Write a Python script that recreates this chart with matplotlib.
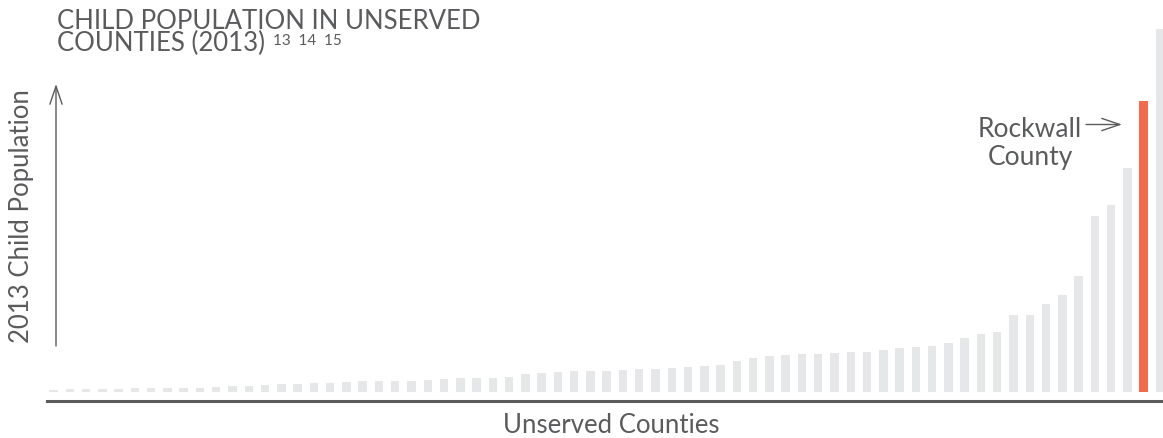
import numpy as np
from matplotlib import pyplot as plt

W, H = 1163, 439

# 2013 child population of each unserved county, smallest to largest
children = [170, 230, 250, 260, 270, 320, 330, 340, 350, 360,
            420, 480, 500, 560, 640, 660, 720, 740, 800, 860,
            880, 890, 900, 980, 1040, 1110, 1120, 1130, 1210, 1440,
            1520, 1600, 1670, 1690, 1700, 1760, 1830, 1850, 1920, 2000,
            2080, 2160, 2480, 2720, 2880, 2960, 3030, 3050, 3120, 3190,
            3210, 3360, 3520, 3600, 3680, 3920, 4320, 4640, 4800, 6160,
            6180, 7040, 7760, 9280, 14080, 14960, 17920, 23280, 29040]
highlight = 67          # Rockwall County
counties = np.arange(len(children))

GREY = '#e6e7e8'
ORANGE = '#f26b4a'
INK = '#5a5b5d'
FONT = 'Lato'


def fx(x):
    return x / W


def fy(y):
    return 1 - y / H


colors = [ORANGE if i == highlight else GREY for i in counties]

fig = plt.figure(figsize=(W / 100, H / 100), dpi=100)
ax = fig.add_axes([fx(47), fy(401.5), fx(1163 - 47), (401.5 - 30) / H])
ax.bar(counties, children, width=0.52, color=colors, linewidth=0)

ymax = max(children)
gap = 8.5 / (393 - 30) * ymax   # bars float a little above the baseline
ax.set_ylim(-gap, ymax)
ax.set_xlim(-0.40, 68.19)

for s in ['left', 'right', 'top']:
    ax.spines[s].set_visible(False)
ax.spines['bottom'].set_color(INK)
ax.spines['bottom'].set_linewidth(2.2)
ax.set_xticks([])
ax.set_yticks([])

txt = dict(family=FONT, weight='normal', color=INK)

# title, two tight lines
fig.text(fx(57), fy(51), 'CHILD POPULATION IN UNSERVED\nCOUNTIES (2013)',
         fontsize=18.5, linespacing=0.86, va='baseline', **txt)
fig.text(fx(273), fy(45), '13  14  15', fontsize=11, va='baseline', **txt)

# axis labels
fig.text(fx(22), fy(216), '2013 Child Population', rotation=90,
         fontsize=18.5, ha='center', va='center', **txt)
fig.text(fx(611), fy(433), 'Unserved Counties', fontsize=18.5,
         ha='center', va='baseline', **txt)

arrow = dict(arrowstyle='->,head_length=0.65,head_width=0.22',
             color=INK, lw=1.0, mutation_scale=20, shrinkA=0, shrinkB=0)
ax.annotate('', xy=(fx(56), fy(85)), xytext=(fx(56), fy(347)),
            xycoords='figure fraction', textcoords='figure fraction',
            arrowprops=arrow, annotation_clip=False)

# highlighted county
fig.text(fx(1030), fy(137), 'Rockwall', fontsize=19, ha='center',
         va='baseline', **txt)
fig.text(fx(1030), fy(165), 'County', fontsize=19, ha='center',
         va='baseline', **txt)
ax.annotate('', xy=(fx(1122), fy(125.5)), xytext=(fx(1086), fy(125.5)),
            xycoords='figure fraction', textcoords='figure fraction',
            arrowprops=arrow, annotation_clip=False)

fig.savefig('out.png', dpi=100)
